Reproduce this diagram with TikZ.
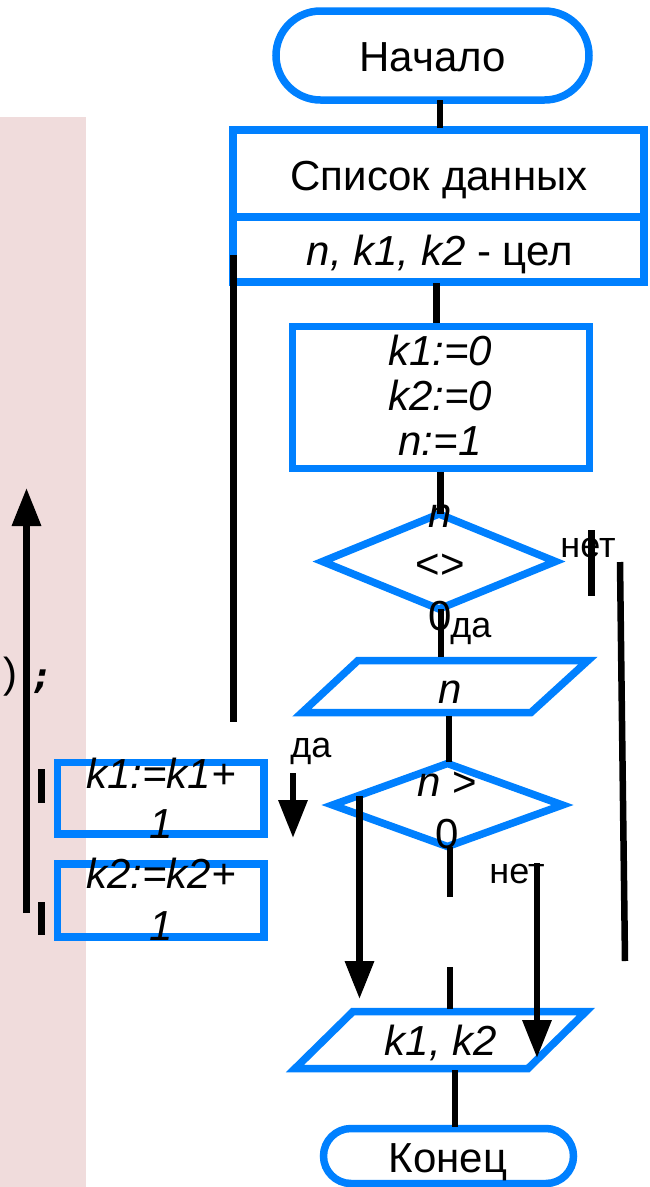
\documentclass[tikz,border=0pt]{standalone}
\usepackage{fontspec}
\setmainfont{Liberation Sans}
\setmonofont{DejaVu Sans Mono}
\usetikzlibrary{shapes.geometric,arrows.meta}
\definecolor{fcblue}{RGB}{0,128,255}
\definecolor{pinkbg}{RGB}{240,220,220}
\tikzset{
  blueline/.style={draw=fcblue, line width=7.5pt},
  boxshape/.style={blueline, rectangle, inner sep=0pt, outer sep=0pt},
  diam/.style={blueline, diamond, inner sep=0pt, outer sep=0pt},
  conn/.style={line width=6.5pt, black},
  arr/.style={conn, -{Triangle[width=28pt,length=38pt]}},
  txt/.style={inner sep=0pt, outer sep=0pt, font=\fontsize{42}{45}\selectfont, align=center},
  txti/.style={inner sep=0pt, outer sep=0pt, font=\fontsize{42}{45}\selectfont\itshape, align=center},
  lbl/.style={inner sep=0pt, outer sep=0pt, font=\fontsize{36}{40}\selectfont, anchor=base},
  codetxt/.style={inner sep=0pt, outer sep=0pt, anchor=base, font=\ttfamily\fontsize{36}{36}\selectfont},
}
\begin{document}
\begin{tikzpicture}[x=1pt,y=-1pt]
\useasboundingbox (0,0) rectangle (650,1187);
\fill[pinkbg] (0,117) rectangle (86,1187);

% shapes
\node[boxshape, minimum width=313pt, minimum height=89pt, rounded corners=44.5pt] (start) at (432.5,55.5) {};
\node[boxshape, minimum width=411pt, minimum height=87pt] (list) at (438.5,173.5) {};
\node[boxshape, minimum width=411pt, minimum height=65pt] (types) at (438.5,249.5) {};
\node[boxshape, minimum width=297pt, minimum height=142pt] (init) at (441,397.5) {};
\node[diam, minimum width=233pt, minimum height=95pt] (cond1) at (439,561.5) {};
\draw[blueline] (358,660.5) -- (588,660.5) -- (531,712.5) -- (302,712.5) -- cycle;
\node[diam, minimum width=230pt, minimum height=83pt] (cond2) at (447.5,805) {};
\draw[blueline] (353,1011.5) -- (586,1011.5) -- (528,1068.5) -- (295,1068.5) -- cycle;
\node[boxshape, minimum width=250pt, minimum height=55pt, rounded corners=27.5pt] (finish) at (448.5,1156) {};
\node[boxshape, minimum width=206.5pt, minimum height=71.5pt] (inc1) at (160.75,798.25) {};
\node[boxshape, minimum width=206.5pt, minimum height=73pt] (inc2) at (160.75,900.5) {};

% connector end points
\coordinate (a1) at (440,100);   \coordinate (a2) at (440,128);
\coordinate (b1) at (436.5,283); \coordinate (b2) at (436.5,323);
\coordinate (c1) at (440.5,472); \coordinate (c2) at (440.5,514);
\coordinate (d1) at (441,609);   \coordinate (d2) at (441,657);
\coordinate (e1) at (449,716);   \coordinate (e2) at (449,762);
\coordinate (f1) at (450,847);   \coordinate (f2) at (450,897);
\coordinate (g1) at (450,967);   \coordinate (g2) at (450,1009);
\coordinate (h1) at (455,1070);  \coordinate (h2) at (455,1127);
\coordinate (l1) at (233.5,255); \coordinate (l2) at (233.5,722);
\coordinate (n1) at (591.5,530); \coordinate (n2) at (591.5,596);
\coordinate (r1) at (620,562);   \coordinate (r2) at (625,961);
\coordinate (p1) at (537,863);   \coordinate (p2) at (537,1058);
\coordinate (q1) at (359.5,796); \coordinate (q2) at (359.5,999);
\coordinate (y1) at (293,773);   \coordinate (y2) at (293,838);
\coordinate (u1) at (26.5,913);  \coordinate (u2) at (26.5,488);
\coordinate (s1) at (41.5,769);  \coordinate (s2) at (41.5,803);
\coordinate (t1) at (41.5,902);  \coordinate (t2) at (41.5,935);

% connectors
\draw[conn] (a1) -- (a2);
\draw[conn] (b1) -- (b2);
\draw[conn] (c1) -- (c2);
\draw[conn] (d1) -- (d2);
\draw[conn] (e1) -- (e2);
\draw[conn] (f1) -- (f2);
\draw[conn] (g1) -- (g2);
\draw[conn] (h1) -- (h2);
\draw[conn] (l1) -- (l2);
\draw[conn] (n1) -- (n2);
\draw[conn] (r1) -- (r2);
\draw[arr] (p1) -- (p2);
\draw[arr] (q1) -- (q2);
\draw[arr] (y1) -- (y2);
\draw[arr] (u1) -- (u2);
\draw[conn] (s1) -- (s2);
\draw[conn] (t1) -- (t2);

% texts
\node[txt, anchor=base] (tstart) at (432.5,71) {Начало};
\node[txt, anchor=base] (tlist) at (439,190) {Список данных};
\node[txt, anchor=base] (ttypes) at (440,265) {\textit{n, k1, k2} - цел};
\node[txti] (tinit) at (440,395) {k1:=0\\k2:=0\\n:=1};
\node[txt, font=\fontsize{42}{51.5}\selectfont] (tcond1) at (440,567.6) {\textit{n}\\<>\\0};
\node[txti, anchor=base] (tin) at (450,703) {n};
\node[txt, font=\fontsize{42}{52}\selectfont] (tcond2) at (447,810.1) {\textit{n} >\\0};
\node[txti, anchor=base] (tout) at (441,1055) {k1, k2};
\node[txt, anchor=base] (tend) at (448,1172) {Конец};
\node[txti, font=\fontsize{42}{50}\selectfont\itshape] (tinc1) at (161,798) {k1:=k1+\\1};
\node[txti, font=\fontsize{42}{52}\selectfont\itshape] (tinc2) at (161,899) {k2:=k2+\\1};
\node[lbl] (no1) at (588,557) {нет};
\node[lbl] (yes1) at (471,637) {да};
\node[lbl] (yes2) at (311,757) {да};
\node[lbl] (no2) at (517,883) {нет};
\node[inner sep=0pt, outer sep=0pt, anchor=base west, font=\fontsize{42}{42}\selectfont] (paren) at (3,687) {)};
\node[codetxt, font=\ttfamily\bfseries\itshape\fontsize{36}{36}\selectfont] (semi) at (42,688) {;};
\end{tikzpicture}
\end{document}
